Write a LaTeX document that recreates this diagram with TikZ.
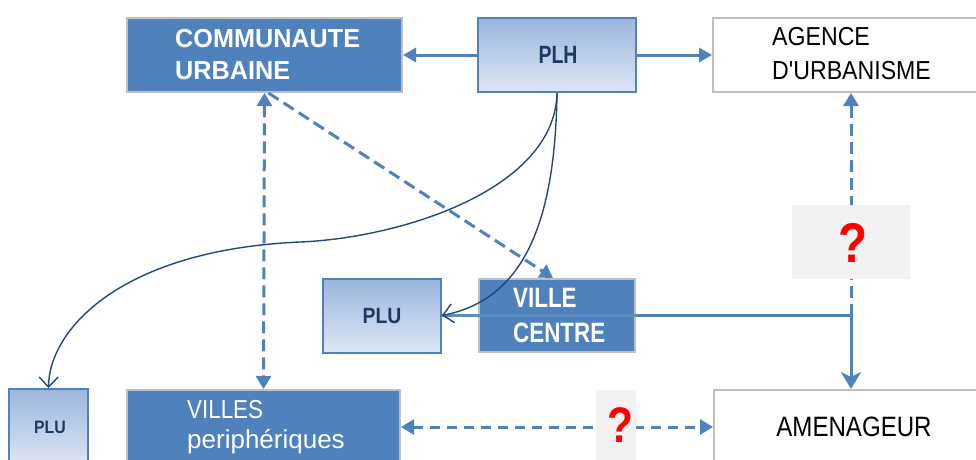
\documentclass[tikz,border=0pt]{standalone}
\usepackage{fontspec}
\setmainfont{Liberation Sans}[Ligatures=TeXOff]
\usetikzlibrary{arrows.meta}
\definecolor{boxblue}{HTML}{4F81BD}
\definecolor{grayb}{HTML}{BFBFBF}
\definecolor{navy}{HTML}{1F3864}
\definecolor{curvec}{HTML}{1F497D}
\definecolor{qgray}{HTML}{F2F2F2}
\definecolor{gtop}{HTML}{9BB5DC}
\definecolor{gbot}{HTML}{DDE6F4}
\newcommand{\sx}[1]{\addfontfeature{FakeStretch=#1}}
\newcommand{\fs}[2]{\fontsize{#1}{#2}\selectfont}
\begin{document}
\begin{tikzpicture}[x=1pt,y=-1pt,
  darkbox/.style={rectangle, draw=grayb, line width=2pt, fill=boxblue, inner sep=0pt},
  whitebox/.style={rectangle, draw=grayb, line width=2pt, fill=white, inner sep=0pt},
  gradbox/.style={rectangle, draw=boxblue, line width=2pt, top color=gtop, bottom color=gbot, inner sep=0pt},
  qbox/.style={rectangle, fill=qgray, inner sep=0pt},
  wtxt/.style={text=white, align=left, inner sep=0pt, anchor=west},
  btxt/.style={text=black, align=left, inner sep=0pt, anchor=west},
  ntxt/.style={text=navy, inner sep=0pt},
  qtxt/.style={text=red, inner sep=0pt},
  solidarr/.style={draw=boxblue, line width=3pt, -{Triangle[length=13pt,width=14pt]}},
  dasharr/.style={draw=boxblue, line width=3pt, dash pattern=on 12pt off 6pt},
  curvearr/.style={draw=curvec, line width=1.4pt, -{Straight Barb[length=10pt,width=19pt,line width=1.4pt]}}
]
\useasboundingbox (0,0) rectangle (976,459);
\clip (0,0) rectangle (976,459);

% boxes
\node[darkbox, minimum width=275pt, minimum height=74pt] (cu) at (264.5,55) {};
\node[gradbox, minimum width=158pt, minimum height=74pt] (plh) at (557,55) {};
\node[whitebox, minimum width=276pt, minimum height=74pt] (ag) at (851,55) {};
\node[gradbox, minimum width=118pt, minimum height=74pt] (plua) at (382,315.5) {};
\node[darkbox, minimum width=156pt, minimum height=73pt] (vc) at (557,315.5) {};
\node[gradbox, minimum width=79pt, minimum height=76pt] (plub) at (48.5,427) {};
\node[darkbox, minimum width=273pt, minimum height=74pt] (vp) at (263.5,427) {};
\node[whitebox, minimum width=274pt, minimum height=74pt] (am) at (851,427) {};

% texts
\node[wtxt, font=\fs{26}{32.5}\bfseries\sx{0.97}] (cut) at (175,54.5) {COMMUNAUTE\\URBAINE};
\node[ntxt, font=\fs{25}{30}\bfseries\sx{0.78}] (plht) at (558,55) {PLH};
\node[btxt, font=\fs{26}{34}\sx{0.89}] (agt) at (772,54) {AGENCE\\D'URBANISME};
\node[ntxt, font=\fs{22}{26}\bfseries\sx{0.88}] (pluat) at (382,316) {PLU};
\node[wtxt, font=\fs{28}{35}\bfseries\sx{0.8}] (vct) at (513,315.5) {VILLE\\CENTRE};
\node[ntxt, font=\fs{18}{22}\bfseries\sx{0.88}] (plubt) at (50,427) {PLU};
\node[wtxt, font=\fs{26}{32}\sx{0.86}] (vpt1) at (187,410) {VILLES};
\node[wtxt, font=\fs{26}{32}] (vpt2) at (187,442) {periphériques};
\node[text=black, inner sep=0pt, font=\fs{28}{32}\sx{0.86}] (amt) at (854,427) {AMENAGEUR};

% connectors
\draw[solidarr] (plh.west) -- (cu.east);
\draw[solidarr] (plh.east) -- (ag.west);
\draw[dasharr, {Triangle[length=13pt,width=15pt]}-{Triangle[length=13pt,width=15pt]}] (cu.south) -- (vp.north);
\draw[dasharr, -{Triangle[length=13pt,width=15pt]}] ([xshift=4pt]cu.south) -- ([xshift=-4pt]vc.north);
\coordinate (j) at (am.north |- vc.east);
\draw[draw=boxblue!92!white, line width=3pt] (vc.east) -- (plua.east);
\draw[draw=boxblue, line width=3pt, -{Stealth[length=17pt,width=20pt,inset=5pt]}] (vc.east) -- (j) -- (am.north);
\draw[dasharr, -{Triangle[length=13pt,width=15pt]}] (j) -- (ag.south);
\draw[dasharr, dash pattern=on 10pt off 7pt, {Triangle[length=13pt,width=15pt]}-{Triangle[length=13pt,width=15pt]}] (vp.east) -- (am.west);
\draw[curvearr] (plh.south) .. controls (555,190) and (400,238) .. (300,242)
   .. controls (120,250) and (49,330) .. (plub.north);
\draw[curvearr] (plh.south) .. controls (555,230) and (520,300) .. (plua.east);

% question boxes
\node[qbox, minimum width=118pt, minimum height=74pt] (q1) at (851,242) {};
\node[qtxt, font=\fs{56}{60}\bfseries\sx{0.85}] (q1t) at (853,243) {?};
\node[qbox, minimum width=40pt, minimum height=80pt] (q2) at (616,430) {};
\node[qtxt, font=\fs{50}{56}\bfseries\sx{0.85}] (q2t) at (620,425) {?};
\end{tikzpicture}
\end{document}
